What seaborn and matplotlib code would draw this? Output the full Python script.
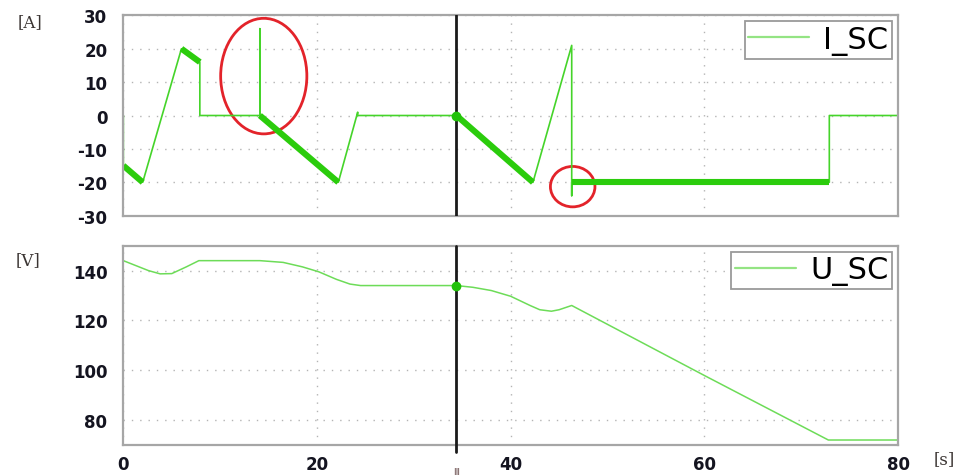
import numpy as np
import pandas as pd
import matplotlib
matplotlib.use("Agg")
import matplotlib.pyplot as plt
from matplotlib.lines import Line2D
from matplotlib.patches import Ellipse
import seaborn as sns

# ======================================
# DATA
# ======================================
# I_SC current trace [A]; i_ripple = 1 marks a segment drawn as thick ripple band
i_time = [0, 0, 2, 6, 7.9, 7.9, 14.1, 14.1, 14.1, 22.2, 24.2, 24.2,
          34.4, 42.3, 46.3, 46.3, 46.3, 72.9, 72.9, 80]
i_value = [0, -15, -20, 20, 16, 0, 0, 26, 0, -20, 1, 0,
           0, -20, 21, -24, -20, -20, 0, 0]
i_ripple = [0, 1, 0, 1, 0, 0, 0, 0, 1, 0, 0, 0,
            1, 0, 0, 0, 1, 0, 0, 0]

# U_SC voltage trace [V]
u_time = [0, 2.6, 3.8, 5.0, 6.5, 7.8, 14.1, 16.5, 18.5, 20.2, 22.0, 23.4, 24.5,
          34.4, 36.1, 38.0, 40.0, 42.0, 43.0, 44.2, 45.0, 46.3, 60.0, 72.8, 80]
u_value = [144, 140, 138.7, 138.8, 141.5, 144, 144, 143.3, 141.5, 139.5, 136.5, 134.6, 134,
           134, 133.3, 132, 129.7, 126, 124.3, 123.7, 124.3, 126, 97.9, 72, 72]

cursor_time = 34.4
cursor_i = 0
cursor_u = 134

# red highlight ellipses (centre t, centre value, width, height) in data units
mark_t = [14.5, 46.4]
mark_v = [11.8, -21.3]
mark_w = [8.9, 4.6]
mark_h = [34.6, 12.1]

x_ticks = [0, 20, 40, 60, 80]
i_ticks = [-30, -20, -10, 0, 10, 20, 30]
u_ticks = [80, 100, 120, 140]

# ======================================
# STYLE
# ======================================
sns.set_style("white")
plt.rcParams["font.family"] = ["DejaVu Sans"]
plt.rcParams["axes.unicode_minus"] = False

GREEN = "#2bcc0c"
GREEN_THIN = "#45d42a"
GREEN_U = "#6ddc58"
LEGEND_GREEN = "#94e483"
SPINE = "#a6a6a6"
TICK_TXT = "#141420"

fig = plt.figure(figsize=(9.75, 4.77), dpi=100)
ax1 = fig.add_axes([0.1265, 0.5457, 0.7946, 0.4201])
ax2 = fig.add_axes([0.1265, 0.065, 0.7946, 0.4178])

# ======================================
# TOP PANEL: I_SC
# ======================================
df_i = pd.DataFrame({"t": i_time, "i": i_value})
sns.lineplot(data=df_i, x="t", y="i", sort=False, estimator=None,
             color=GREEN_THIN, lw=1.2, ax=ax1, legend=False)
for k in range(len(i_time) - 1):
    if i_ripple[k]:
        seg = df_i.iloc[k:k + 2]
        sns.lineplot(data=seg, x="t", y="i", sort=False, estimator=None,
                     color=GREEN, lw=4.4, ax=ax1, legend=False,
                     solid_capstyle="butt")

for t, v, w, h in zip(mark_t, mark_v, mark_w, mark_h):
    ax1.add_patch(Ellipse((t, v), w, h, fill=False, edgecolor="#e3232a", lw=2))

# ======================================
# BOTTOM PANEL: U_SC
# ======================================
df_u = pd.DataFrame({"t": u_time, "u": u_value})
sns.lineplot(data=df_u, x="t", y="u", sort=False, estimator=None,
             color=GREEN_U, lw=1.1, ax=ax2, legend=False)

# ======================================
# CURSOR
# ======================================
ax1.axvline(cursor_time, color="#1a1a1a", lw=2, zorder=5)
ax2.axvline(cursor_time, ymin=-0.035, ymax=1, color="#1a1a1a", lw=2,
            zorder=5, clip_on=False)
ax1.plot([cursor_time], [cursor_i], "o", color="#22c20a", ms=6, zorder=6)
ax2.plot([cursor_time], [cursor_u], "o", color="#22c20a", ms=6, zorder=6)

# ======================================
# AXES FORMATTING
# ======================================
for ax in (ax1, ax2):
    ax.set_xlim(0, 80)
    ax.set_xticks(x_ticks)
    ax.set_xlabel("")
    ax.set_ylabel("")
    ax.grid(True, linestyle=(0, (1, 5)), color="#b4b4b4", lw=1)
    for s in ax.spines.values():
        s.set_color(SPINE)
        s.set_linewidth(1.6)
    ax.tick_params(axis="y", length=9.5, width=1.2, color=SPINE,
                   labelsize=12, labelcolor=TICK_TXT, pad=2)

ax1.set_ylim(-30, 30)
ax1.set_yticks(i_ticks)
ax1.tick_params(axis="x", length=0, labelbottom=False)

ax2.set_ylim(70, 150)
ax2.set_yticks(u_ticks)
ax2.tick_params(axis="x", length=4, width=1.2, color=SPINE,
                labelsize=12, labelcolor=TICK_TXT, pad=3)

for ax in (ax1, ax2):
    for lab in ax.get_xticklabels() + ax.get_yticklabels():
        lab.set_fontweight("bold")

# legends
leg_kw = dict(loc="upper right", fontsize=22, frameon=True, fancybox=False,
              framealpha=1, edgecolor="#9a9a9a", handlelength=2.0,
              handletextpad=0.45, borderpad=0.12, borderaxespad=0.2,
              labelcolor="black")
l1 = ax1.legend(handles=[Line2D([], [], color=LEGEND_GREEN, lw=1.6)],
                labels=["I_SC"], **leg_kw)
l2 = ax2.legend(handles=[Line2D([], [], color=LEGEND_GREEN, lw=1.6)],
                labels=["U_SC"], **leg_kw)
for leg in (l1, l2):
    leg.get_frame().set_linewidth(1.3)

# unit labels
unit_kw = dict(family="DejaVu Serif", fontsize=12, color="#3a3432",
               ha="center", va="center")
fig.text(30 / 975, 1 - 23 / 477, "[A]", **unit_kw)
fig.text(28 / 975, 1 - 261 / 477, "[V]", **unit_kw)
fig.text(944 / 975, 1 - 460 / 477, "[s]", **unit_kw)
fig.text(456 / 975, 1 - 473 / 477, "Ⅲ", fontsize=6, color="#5a3a3a",
         ha="center", va="center")

fig.savefig("out.png", dpi=100)
plt.close(fig)
